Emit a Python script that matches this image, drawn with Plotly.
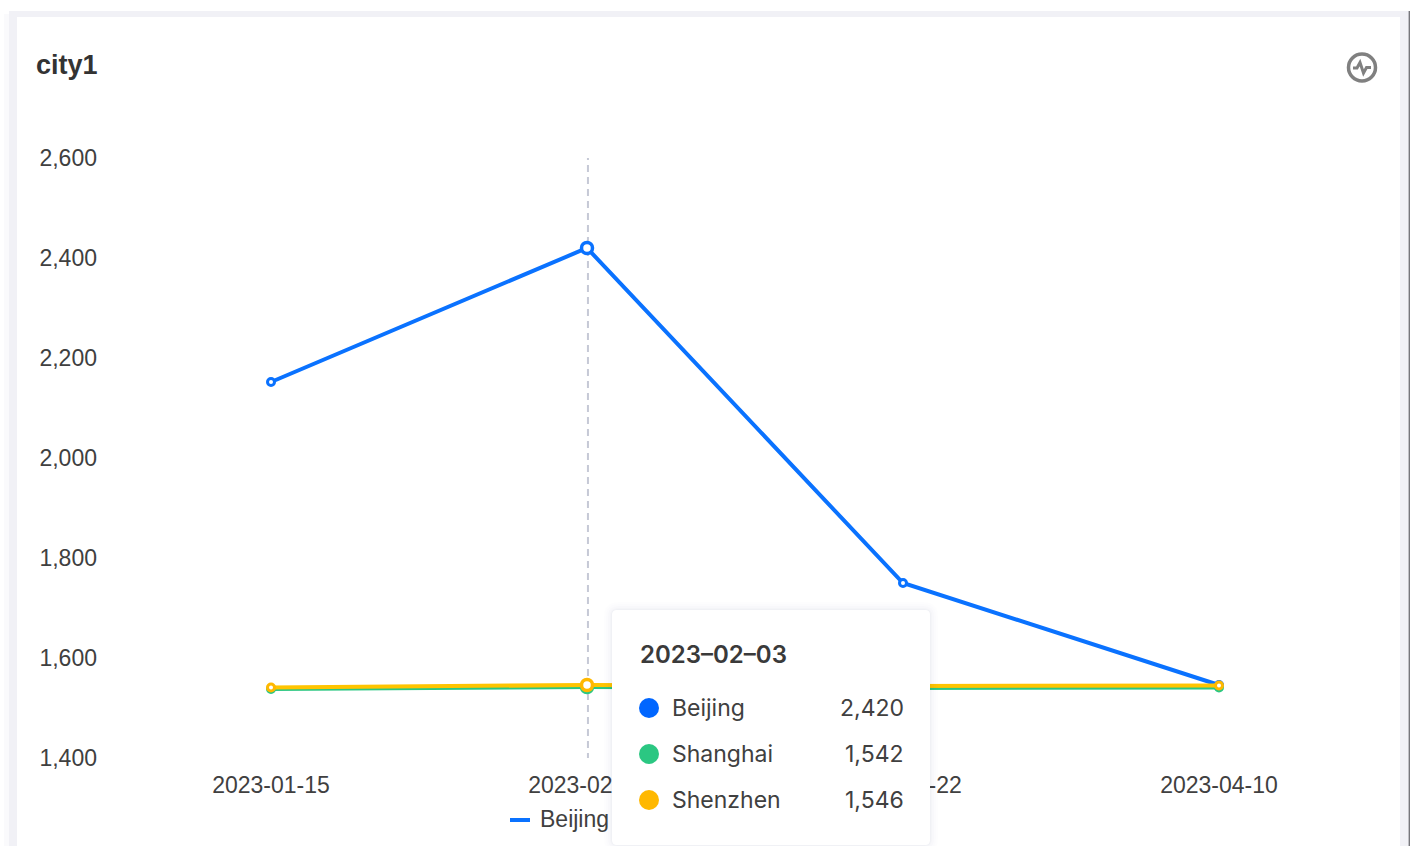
import plotly.graph_objects as go

W, H = 1415, 846

# Chart data
dates = ["2023-01-15", "2023-02-03", "2023-03-22", "2023-04-10"]
beijing = [2152, 2420, 1750, 1546]
shanghai = [1538, 1542, 1540, 1541]
shenzhen = [1541, 1546, 1544, 1545]
y_ticks = [1400, 1600, 1800, 2000, 2200, 2400, 2600]

series_names = ["Beijing", "Shanghai", "Shenzhen"]
series_values = [beijing, shanghai, shenzhen]
line_colors = ["#0A72FF", "#2BC782", "#FFC400"]
dot_colors = ["#0066FF", "#2BC782", "#FFB800"]
active_index = 1

TEXT = "#404040"
TICK_FONT = "Liberation Sans"
TIP_FONT = "Inter"


def px(x):
    return x / W


def py(y):
    return 1 - y / H


def box(x0, y0, x1, y1, fill, layer="below", line=None):
    return dict(type="rect", xref="paper", yref="paper",
                x0=px(x0), x1=px(x1), y0=py(y0), y1=py(y1),
                fillcolor=fill, layer=layer,
                line=line or dict(width=0))


def rounded(x0, y0, x1, y1, r, fill, layer="above"):
    a, b, c, d = px(x0), px(x1), py(y0), py(y1)
    rx, ry = r / W, r / H
    path = (f"M{a + rx},{c} L{b - rx},{c} Q{b},{c} {b},{c - ry} "
            f"L{b},{d + ry} Q{b},{d} {b - rx},{d} "
            f"L{a + rx},{d} Q{a},{d} {a},{d + ry} "
            f"L{a},{c - ry} Q{a},{c} {a + rx},{c} Z")
    return dict(type="path", xref="paper", yref="paper", path=path,
                fillcolor=fill, layer=layer, line=dict(width=0))


def label(x, y, text, size, anchor="left", color=TEXT, family=TIP_FONT, weight=400):
    return dict(xref="paper", yref="paper", x=px(x), y=py(y), text=text,
                showarrow=False, xanchor=anchor, yanchor="middle",
                borderpad=0, borderwidth=0,
                font=dict(family=family, size=size, color=color, weight=weight))


fig = go.Figure()

for name, values, color, dot in zip(series_names, series_values, line_colors, dot_colors):
    sizes = [11 if i == active_index else 7 for i in range(len(dates))]
    widths = [3.5 if i == active_index else 3 for i in range(len(dates))]
    fig.add_trace(go.Scatter(
        x=dates, y=values, name=name, mode="lines+markers",
        line=dict(color=color, width=4),
        marker=dict(color="white", size=sizes, opacity=1,
                    line=dict(color=dot if name != "Beijing" else color, width=widths)),
        showlegend=False, cliponaxis=False,
    ))

# Card frame behind the plot
shapes = [
    box(9, 11, 1409, H + 1, "#F1F1F6"),
    box(17, 17, 1400, H + 1, "#FFFFFF"),
    box(1408.6, 11, 1410, H + 1, "#77777C"),
    box(4, 14, 9, H + 1, "#FAFAFC"),
]

# Crosshair at the active date
shapes.append(dict(type="line", xref="x", yref="y",
                   x0=active_index + 0.003, x1=active_index + 0.003,
                   y0=1396, y1=2600, layer="below",
                   line=dict(color="#C6C9D6", width=2, dash="7px,5px")))

# Status icon in the card corner
shapes.append(dict(type="circle", xref="paper", yref="paper",
                   x0=px(1348.5), x1=px(1375.5), y0=py(81), y1=py(54),
                   fillcolor="rgba(0,0,0,0)", layer="above",
                   line=dict(color="#808080", width=3.5)))
pulse = [(1353, 68), (1357, 68), (1360, 62.5), (1363.5, 73), (1366.5, 67.5), (1371, 67.5)]
shapes.append(dict(type="path", xref="paper", yref="paper", layer="above",
                   path="M" + " L".join(f"{px(x)},{py(y)}" for x, y in pulse),
                   fillcolor="rgba(0,0,0,0)",
                   line=dict(color="#808080", width=3)))

# Legend entry left uncovered by the tooltip
shapes.append(dict(type="line", xref="paper", yref="paper", layer="below",
                   x0=px(510), x1=px(530), y0=py(820), y1=py(820),
                   line=dict(color=line_colors[0], width=4)))

# Tooltip card with a soft shadow
for grow, alpha in [(8, 0.006), (6, 0.008), (4, 0.01), (2, 0.015), (1, 0.02)]:
    shapes.append(rounded(612 - grow, 610 - grow, 930 + grow, 845 + grow, 6 + grow,
                          f"rgba(30,40,80,{alpha})"))
shapes.append(rounded(612, 610, 930, 845, 5, "#FFFFFF"))

tip_rows = [708, 754, 800]
tip_values = [s[active_index] for s in series_values]
for y, color in zip(tip_rows, dot_colors):
    shapes.append(dict(type="circle", xref="paper", yref="paper", layer="above",
                       x0=px(639), x1=px(659), y0=py(y + 10), y1=py(y - 10),
                       fillcolor=color, line=dict(width=0)))

annotations = [
    label(36, 65, "city1", 27, family=TICK_FONT, weight=700, color="#333333"),
    label(540, 819, series_names[0], 23, family=TICK_FONT),
    label(640, 654, dates[active_index].replace("-", "–"), 24, weight=600, color="#3A3A3A"),
]
for y, name, value in zip(tip_rows, series_names, tip_values):
    annotations.append(label(672, y, name, 23))
    annotations.append(label(904, y, f"{value:,}", 23, anchor="right"))

fig.update_layout(
    width=W, height=H, autosize=False,
    margin=dict(l=0, r=0, t=0, b=0, pad=0),
    paper_bgcolor="#FFFFFF", plot_bgcolor="rgba(0,0,0,0)",
    hovermode=False, showlegend=False,
    shapes=shapes, annotations=annotations,
    xaxis=dict(type="category", categoryorder="array", categoryarray=dates,
               domain=[px(113), px(1377)], range=[-0.5, 3.5], automargin=False,
               showgrid=False, zeroline=False, showline=False, ticks="",
               ticklabelstandoff=11, tickangle=0,
               tickfont=dict(family=TICK_FONT, size=23, color=TEXT)),
    yaxis=dict(domain=[py(758), py(158)], range=[1400, 2600], automargin=False,
               tickmode="array", tickvals=y_ticks, tickformat=",",
               showgrid=False, zeroline=False, showline=False, ticks="",
               ticklabelstandoff=15,
               tickfont=dict(family=TICK_FONT, size=23, color=TEXT)),
)

fig.write_html("out.html", config=dict(displayModeBar=False))
